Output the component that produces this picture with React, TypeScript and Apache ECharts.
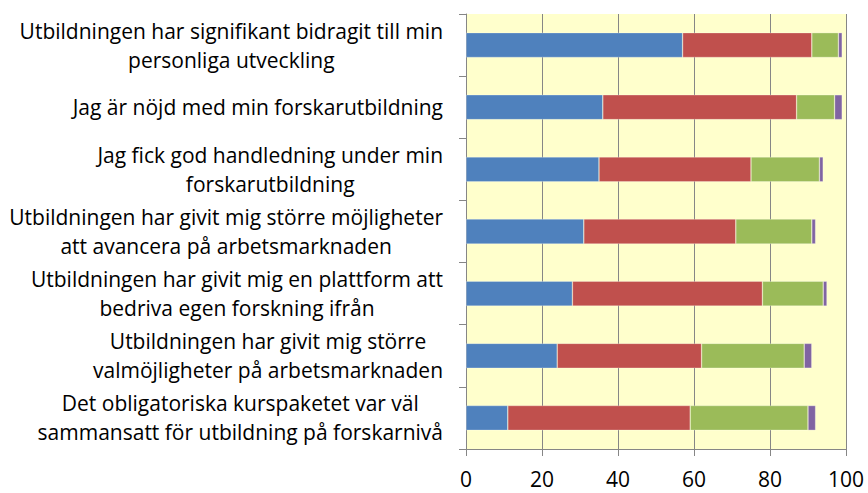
import React, { useEffect, useRef } from "react";
import * as echarts from "echarts";

const categories: string[] = [
  "Utbildningen har signifikant bidragit till min\npersonliga utveckling",
  "Jag är nöjd med min forskarutbildning",
  "Jag fick god handledning under min\nforskarutbildning",
  "Utbildningen har givit mig större möjligheter\natt avancera på arbetsmarknaden",
  "Utbildningen har givit mig en plattform att\nbedriva egen forskning ifrån",
  "Utbildningen har givit mig större\nvalmöjligheter på arbetsmarknaden",
  "Det obligatoriska kurspaketet var väl\nsammansatt för utbildning på forskarnivå",
];

const seriesNames: string[] = ["Serie 1", "Serie 2", "Serie 3", "Serie 4"];
const blueValues: number[] = [57, 36, 35, 31, 28, 24, 11];
const redValues: number[] = [34, 51, 40, 40, 50, 38, 48];
const greenValues: number[] = [7, 10, 18, 20, 16, 27, 31];
const purpleValues: number[] = [1, 2, 1, 1, 1, 2, 2];
const xTicks: number[] = [0, 20, 40, 60, 80, 100];

const colors = ["#4F81BD", "#C0504D", "#9BBB59", "#8064A2"];
const FONT = "'Open Sans', Lato, sans-serif";

export default function App() {
  const ref = useRef<HTMLDivElement>(null);
  useEffect(() => {
    document.body.style.margin = "0";
    if (!ref.current) return;
    const chart = echarts.init(ref.current, null, { renderer: "svg" });
    const values = [blueValues, redValues, greenValues, purpleValues];
    chart.setOption({
      animation: false,
      grid: {
        left: 466,
        right: 22,
        top: 14,
        bottom: 44,
        show: true,
        backgroundColor: "#FFFFCC",
        borderWidth: 0,
      },
      xAxis: {
        type: "value",
        min: xTicks[0],
        max: xTicks[xTicks.length - 1],
        interval: 20,
        axisLine: { show: true, lineStyle: { color: "#868686", width: 1 } },
        axisTick: { show: true, length: 7, lineStyle: { color: "#868686" } },
        splitLine: { show: true, lineStyle: { color: "#868686", width: 1 } },
        axisLabel: {
          color: "#000",
          fontSize: 21,
          fontFamily: FONT,
          margin: 19,
          lineHeight: 22,
        },
      },
      yAxis: {
        type: "category",
        inverse: true,
        data: categories,
        axisLine: { show: true, lineStyle: { color: "#868686", width: 1 } },
        axisTick: { show: true, length: 7, alignWithLabel: false, lineStyle: { color: "#868686" } },
        splitLine: { show: false },
        axisLabel: {
          margin: 23,
          color: "#000",
          formatter: (v: string) =>
            v
              .split("\n")
              .map((l) => `{c|${l}}`)
              .join("\n"),
          rich: {
            c: {
              align: "center",
              fontSize: 21,
              fontFamily: FONT,
              color: "#000",
              lineHeight: 29,
            },
          },
        },
      },
      series: values.map((d, i) => ({
        name: seriesNames[i],
        type: "bar",
        stack: "total",
        barWidth: "40%",
        data: d,
        itemStyle: {
          color: colors[i],
          borderColor: "rgba(255,255,255,0.45)",
          borderWidth: 0.6,
        },
      })),
    });
    return () => chart.dispose();
  }, []);
  return <div ref={ref} style={{ width: 868, height: 493 }} />;
}
